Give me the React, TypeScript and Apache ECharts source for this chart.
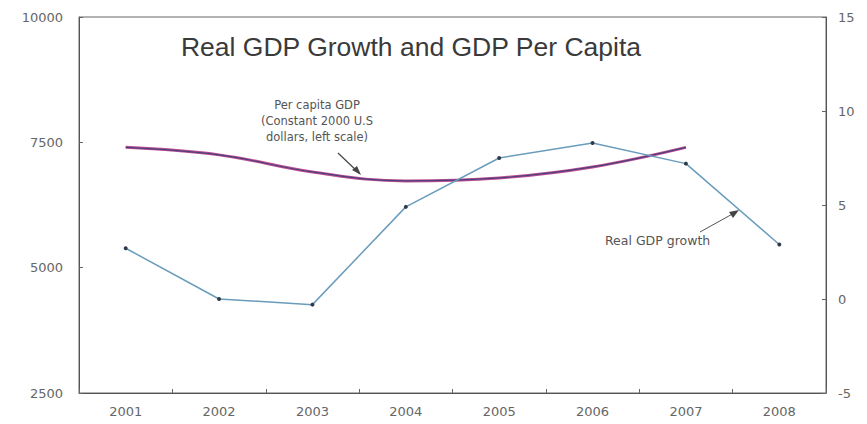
import React, { useEffect, useRef } from "react";
import * as echarts from "echarts";

const years = ["2001", "2002", "2003", "2004", "2005", "2006", "2007", "2008"];
const perCapitaGdp = [7400, 7250, 6910, 6730, 6790, 7010, 7400, null];
const realGdpGrowth = [2.7, 0.0, -0.3, 4.9, 7.5, 8.3, 7.2, 2.9];
const leftTicks = { min: 2500, max: 10000, interval: 2500 };
const rightTicks = { min: -5, max: 15, interval: 5 };

const FONT = "'Liberation Sans', Arial, sans-serif";
const WIDE = "'DejaVu Sans', Verdana, sans-serif";

export default function App() {
  const ref = useRef<HTMLDivElement>(null);
  useEffect(() => {
    if (!ref.current) return;
    const chart = echarts.init(ref.current, null, { renderer: "svg" });
    const axisLine = { show: true, onZero: false, lineStyle: { color: "#555", width: 1 } };
    const tickLabel = { fontFamily: WIDE, fontSize: 13, color: "#666" };
    chart.setOption({
      animation: false,
      backgroundColor: "#fff",
      title: {
        text: "Real GDP Growth and GDP Per Capita",
        left: 406,
        top: 28,
        textAlign: "center",
        textStyle: { fontFamily: FONT, fontSize: 26.5, fontWeight: "normal", color: "#3a3a3a" },
      },
      grid: { left: 79, right: 41, top: 17, bottom: 31, show: true, borderColor: "#666", borderWidth: 1 },
      xAxis: {
        type: "category",
        data: years,
        boundaryGap: true,
        axisLine,
        axisTick: { show: true, inside: true, length: 4, lineStyle: { color: "#666" } },
        axisLabel: { ...tickLabel, margin: 12 },
        splitLine: { show: false },
      },
      yAxis: [
        {
          type: "value",
          position: "left",
          ...leftTicks,
          axisLine,
          axisTick: { show: true, inside: true, length: 4, lineStyle: { color: "#666" } },
          axisLabel: { ...tickLabel, margin: 16, formatter: (v: number) => String(v) },
          splitLine: { show: false },
        },
        {
          type: "value",
          position: "right",
          ...rightTicks,
          axisLine,
          axisTick: { show: true, inside: true, length: 4, lineStyle: { color: "#666" } },
          axisLabel: { ...tickLabel, margin: 12 },
          splitLine: { show: false },
        },
      ],
      series: [
        {
          name: "Per capita GDP",
          type: "line",
          yAxisIndex: 0,
          data: perCapitaGdp,
          smooth: 0.4,
          showSymbol: false,
          lineStyle: { color: "#c0508f", width: 3 },
          z: 2,
        },
        {
          name: "Per capita GDP overlay",
          type: "line",
          yAxisIndex: 0,
          data: perCapitaGdp,
          smooth: 0.4,
          showSymbol: false,
          lineStyle: { color: "#4a3f7f", width: 1.2 },
          z: 3,
        },
        {
          name: "Real GDP growth",
          type: "line",
          yAxisIndex: 1,
          data: realGdpGrowth,
          symbol: "circle",
          symbolSize: 4,
          showSymbol: true,
          itemStyle: { color: "#2f3a4a" },
          lineStyle: { color: "#6a9cbc", width: 1.5 },
          z: 4,
        },
      ],
      graphic: [
        {
          type: "text",
          x: 317,
          y: 97,
          style: {
            text: "Per capita GDP\n(Constant 2000 U.S\ndollars, left scale)",
            fontFamily: WIDE,
            fontSize: 11.5,
            lineHeight: 16,
            fill: "#555",
            textAlign: "center",
          },
        },
        {
          type: "line",
          shape: { x1: 338, y1: 153, x2: 359, y2: 173 },
          style: { stroke: "#444", lineWidth: 1.2 },
        },
        {
          type: "polygon",
          shape: { points: [[361, 175], [352, 170], [357, 166]] },
          style: { fill: "#444" },
        },
        {
          type: "text",
          x: 605,
          y: 234,
          style: {
            text: "Real GDP growth",
            fontFamily: WIDE,
            fontSize: 12.5,
            fill: "#555",
          },
        },
        {
          type: "line",
          shape: { x1: 700, y1: 232, x2: 736, y2: 212 },
          style: { stroke: "#555", lineWidth: 1 },
        },
        {
          type: "polygon",
          shape: { points: [[739, 210], [729, 212], [733, 218]] },
          style: { fill: "#444" },
        },
      ],
    });
    return () => chart.dispose();
  }, []);
  return <div ref={ref} style={{ width: 867, height: 424, margin: -8 }} />;
}
